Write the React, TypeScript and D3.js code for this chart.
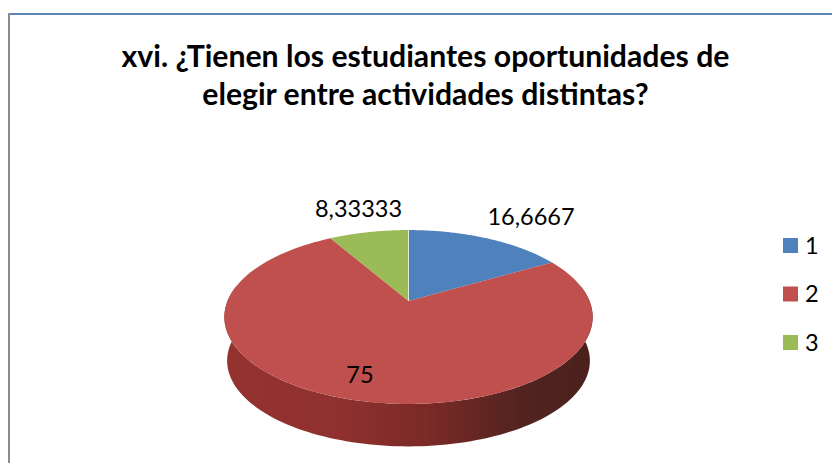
import React from 'react';
import * as d3 from 'd3';

const categories = ['1', '2', '3'];
const values = [16.6667, 75, 8.33333];
const valueLabels = ['16,6667', '75', '8,33333'];
const colors = ['#4f81bd', '#c0504d', '#9bbb59'];
const titleLines = ['xvi. ¿Tienen los estudiantes oportunidades de', 'elegir entre actividades distintas?'];

const apexX = 408.5, apexY = 301, A = 181, B = 84, K = 0.184, depth = 44;
const labelAnchors: [number, number][] = [[531, 225], [360, 383], [358.5, 217]];

// perspective projection of the unit-disc onto the tilted pie top
const project = (angle: number, r = 1, scale = 1, dy = 0): [number, number] => {
  const u = r * Math.sin(angle), v = r * Math.cos(angle), w = 1 + K * v;
  return [apexX + (A * scale * u) / w, apexY + dy - (B * scale * v) / w];
};

const line = d3.line<[number, number]>();
const arcPoints = (a0: number, a1: number, scale = 1, dy = 0) =>
  d3.range(0, 121).map((i) => project(a0 + ((a1 - a0) * i) / 120, 1, scale, dy));

export default function App() {
  const pie = d3.pie<number>().sort(null)(values);
  const apex: [number, number] = [apexX, apexY];

  // Front wall: from the rightmost to the leftmost silhouette of the disc
  const wallStart = Math.PI / 2 - 0.18, wallEnd = (3 * Math.PI) / 2 + 0.18;
  const wall = [
    ...arcPoints(wallStart, wallEnd),
    ...arcPoints(wallEnd, wallStart, 0.985, depth),
  ];

  const legendY = d3.scalePoint<string>().domain(categories).range([245.5, 342.5]);

  return (
    <svg width={832} height={463} style={{ position: 'absolute', left: 0, top: 0, background: '#fff' }}>
      <defs>
        <linearGradient id="wall" x1="0" x2="1" y1="0" y2="0">
          <stop offset="0" stopColor="#94322f" />
          <stop offset="0.3" stopColor="#90312f" />
          <stop offset="0.55" stopColor="#7a2a27" />
          <stop offset="0.8" stopColor="#532320" />
          <stop offset="1" stopColor="#4a211c" />
        </linearGradient>
      </defs>
      <line x1={8} x2={832} y1={14} y2={14} stroke="#5b86b8" strokeWidth={2} />
      <line x1={9} x2={9} y1={13} y2={463} stroke="#8c8c8c" strokeWidth={2} />
      {titleLines.map((t, i) => (
        <text key={t} x={425.5} y={67 + i * 38} textAnchor="middle" fontFamily="Lato" fontWeight={700} fontSize={30.2} fill="#000">
          {t}
        </text>
      ))}
      <path d={line(wall) + 'Z'} fill="url(#wall)" />
      {pie.map((d, i) => (
        <path
          key={categories[i]}
          d={line([apex, ...arcPoints(d.startAngle, d.endAngle)]) + 'Z'}
          fill={colors[i]}
        />
      ))}
      <line x1={apexX} x2={apexX} y1={apexY} y2={project(0)[1]} stroke="#e4ebd8" strokeWidth={1} />
      {valueLabels.map((t, i) => (
        <text key={t} x={labelAnchors[i][0]} y={labelAnchors[i][1]} textAnchor="middle" fontFamily="Lato" fontSize={23.5} fill="#000">
          {t}
        </text>
      ))}
      {categories.map((c, i) => (
        <g key={c}>
          <rect x={783} y={(legendY(c) as number) - 7.5} width={15} height={15} fill={colors[i]} />
          <text x={805} y={(legendY(c) as number) + 8} fontFamily="Lato" fontSize={23.5} fill="#000">
            {c}
          </text>
        </g>
      ))}
    </svg>
  );
}
